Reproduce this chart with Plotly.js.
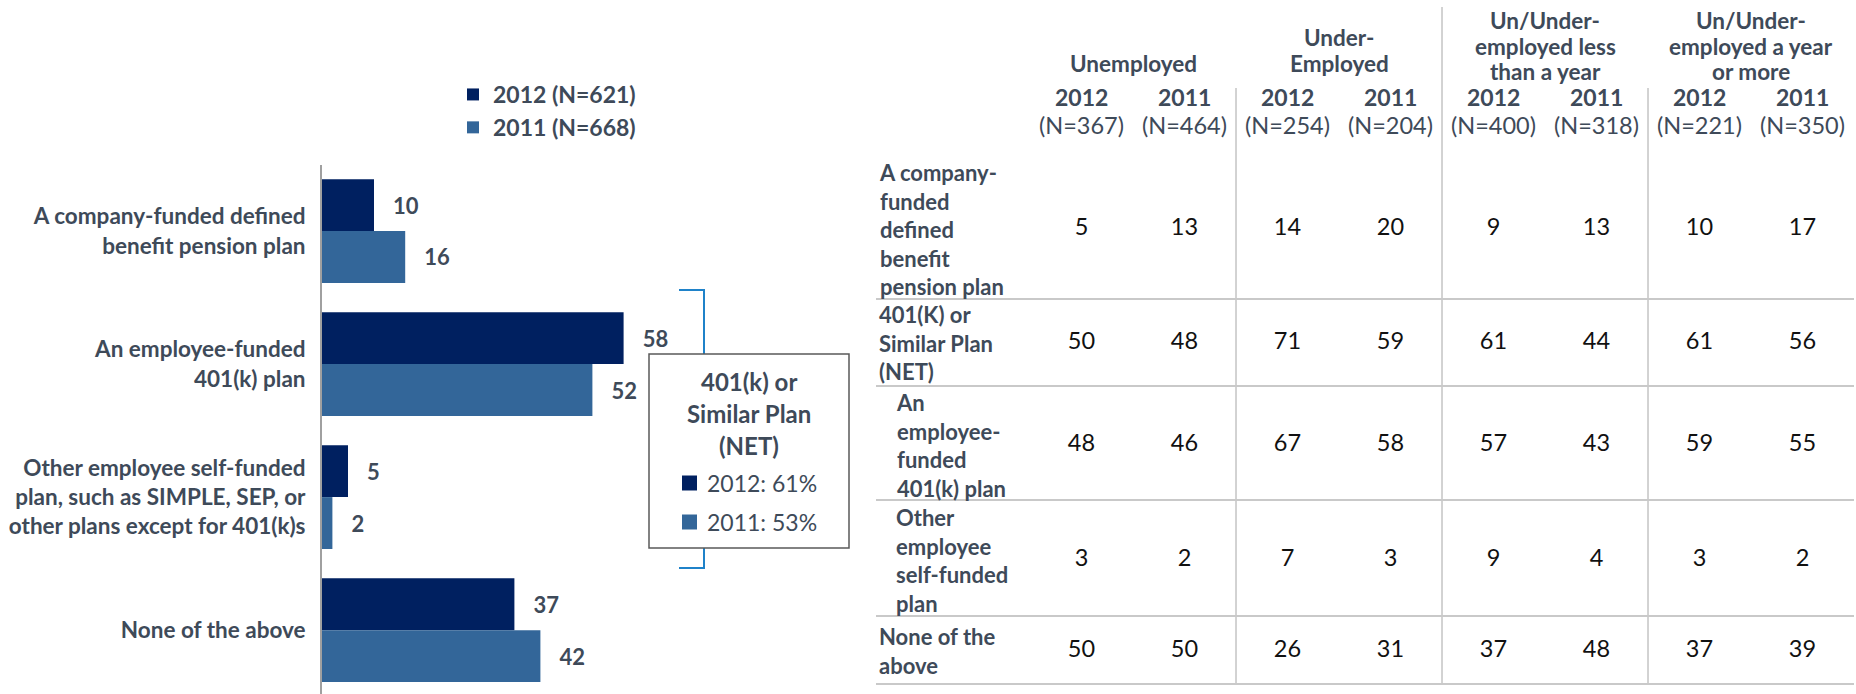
<!DOCTYPE html>
<html><head><meta charset="utf-8">
<script src="https://cdn.plot.ly/plotly-3.0.1.min.js"></script>
<style>html,body{margin:0;padding:0;background:#fff;} #chart{width:1856px;height:694px;}</style>
</head><body><div id="chart"></div>
<script>
// ---------- data ----------
const categories = [
  "A company-funded defined<br>benefit pension plan",
  "An employee-funded<br>401(k) plan",
  "Other employee self-funded<br>plan, such as SIMPLE, SEP, or<br>other plans except for 401(k)s",
  "None of the above"
];
const values2012 = [10, 58, 5, 37];
const values2011 = [16, 52, 2, 42];
const seriesNames = ["2012 (N=621)", "2011 (N=668)"];
const netTitleLines = ["401(k) or", "Similar Plan", "(NET)"];
const netLabels = ["2012: 61%", "2011: 53%"];

const groupTitles = [["Unemployed"], ["Under-", "Employed"], ["Un/Under-", "employed less", "than a year"], ["Un/Under-", "employed a year", "or more"]];
const colYears = ["2012", "2011", "2012", "2011", "2012", "2011", "2012", "2011"];
const colN = ["(N=367)", "(N=464)", "(N=254)", "(N=204)", "(N=400)", "(N=318)", "(N=221)", "(N=350)"];
const rowLabels = [
  "A company-<br>funded<br>defined<br>benefit<br>pension plan",
  "401(K) or<br>Similar Plan<br>(NET)",
  "An<br>employee-<br>funded<br>401(k) plan",
  "Other<br>employee<br>self-funded<br>plan",
  "None of the<br>above"
];
const rowIndent = [false, false, true, true, false];
const tableValues = [
  [5, 13, 14, 20, 9, 13, 10, 17],
  [50, 48, 71, 59, 61, 44, 61, 56],
  [48, 46, 67, 58, 57, 43, 59, 55],
  [3, 2, 7, 3, 9, 4, 3, 2],
  [50, 50, 26, 31, 37, 48, 37, 39]
];

// ---------- styling / layout constants ----------
const W = 1856, H = 694;
const FONT = "Lato, 'Open Sans', sans-serif";
const GRAY = "#3E4A59";
const C2012 = "#002060", C2011 = "#336699";
const NBSP = "\u00a0";

// table geometry (pixel space of overlay axes)
const groupCenters = [1133, 1339, 1545, 1751];
const colHalf = 51.5;
const colCenters = [];
groupCenters.forEach(g => { colCenters.push(g - colHalf, g + colHalf); });
const titleLineY = {1: [63], 2: [37, 63], 3: [20, 46, 71]};
const rowCenters = [229, 343, 445, 560, 651];
const rowLines = [299, 386, 500, 616, 684];
const sepX = [1236, 1442, 1648];
const sepTop = [88, 7, 88];

const traces = [
  {type: "bar", orientation: "h", name: seriesNames[0], y: categories, x: values2012,
   marker: {color: C2012}, text: values2012.map(String), texttemplate: NBSP + NBSP + NBSP + "%{x}",
   textposition: "outside", cliponaxis: false, constraintext: "none",
   textfont: {family: FONT, size: 22, color: GRAY, weight: "bold"}, hoverinfo: "skip"},
  {type: "bar", orientation: "h", name: seriesNames[1], y: categories, x: values2011,
   marker: {color: C2011}, text: values2011.map(String), texttemplate: NBSP + NBSP + NBSP + "%{x}",
   textposition: "outside", cliponaxis: false, constraintext: "none",
   textfont: {family: FONT, size: 22, color: GRAY, weight: "bold"}, hoverinfo: "skip"}
];

// table values as text traces on the overlay axes
tableValues.forEach((row, r) => {
  traces.push({type: "scatter", mode: "text", xaxis: "x2", yaxis: "y2", showlegend: false,
    x: colCenters, y: colCenters.map(() => rowCenters[r]), text: row.map(String),
    textposition: "middle center", cliponaxis: false, hoverinfo: "skip",
    textfont: {family: FONT, size: 23.5, color: "#111111"}});
});

const shapes = [];
const annotations = [];

// bracket + NET box
shapes.push({type: "path", xref: "x2", yref: "y2", path: "M 679 290 H 704 V 568 H 679",
  line: {color: "#1F82C9", width: 2}});
shapes.push({type: "rect", xref: "x2", yref: "y2", x0: 649, x1: 849, y0: 354, y1: 548,
  fillcolor: "#ffffff", line: {color: "#595959", width: 1.5}});
const netTitleY = [381, 413, 445];
netTitleLines.forEach((t, i) => annotations.push({xref: "x2", yref: "y2", x: 749, y: netTitleY[i],
  text: t, showarrow: false, xanchor: "center", yanchor: "middle",
  font: {family: FONT, size: 24, color: GRAY, weight: "bold"}}));
const netY = [483, 522];
[C2012, C2011].forEach((c, i) => {
  shapes.push({type: "rect", xref: "x2", yref: "y2", x0: 682, x1: 697, y0: netY[i] - 7.5, y1: netY[i] + 7.5,
    fillcolor: c, line: {width: 0}});
  annotations.push({xref: "x2", yref: "y2", x: 705, y: netY[i], text: netLabels[i], showarrow: false,
    xanchor: "left", yanchor: "middle", font: {family: FONT, size: 23, color: GRAY}});
});

// table lines
sepX.forEach((x, i) => shapes.push({type: "line", xref: "x2", yref: "y2", x0: x, x1: x, y0: sepTop[i], y1: 684,
  line: {color: "#A6A6A6", width: 1}}));
rowLines.forEach(y => shapes.push({type: "line", xref: "x2", yref: "y2", x0: 876, x1: 1854, y0: y, y1: y,
  line: {color: "#C9C9C9", width: 2}}));

// table header
groupTitles.forEach((lines, i) => {
  const ys = titleLineY[lines.length];
  lines.forEach((t, k) => annotations.push({xref: "x2", yref: "y2", x: groupCenters[i], y: ys[k],
    text: t, showarrow: false, xanchor: "center", yanchor: "middle", borderpad: 0,
    font: {family: FONT, size: 22.5, color: GRAY, weight: "bold"}}));
});
colCenters.forEach((x, i) => {
  annotations.push({xref: "x2", yref: "y2", x: x, y: 97, text: colYears[i], showarrow: false, borderpad: 0,
    xanchor: "center", yanchor: "middle", font: {family: FONT, size: 23, color: GRAY, weight: "bold"}});
  annotations.push({xref: "x2", yref: "y2", x: x, y: 125, text: colN[i], showarrow: false, borderpad: 0,
    xanchor: "center", yanchor: "middle", font: {family: FONT, size: 23.5, color: GRAY}});
});
// row labels
rowLabels.forEach((t, r) => annotations.push({xref: "x2", yref: "y2", x: rowIndent[r] ? 894 : 877, y: rowCenters[r],
  text: t, showarrow: false, xanchor: "left", yanchor: "middle", align: "left",
  font: {family: FONT, size: 22, color: GRAY, weight: "bold"}}));

const layout = {
  width: W, height: H,
  margin: {l: 0, r: 0, t: 0, b: 0, pad: 0},
  paper_bgcolor: "#ffffff", plot_bgcolor: "rgba(0,0,0,0)",
  barmode: "group", bargap: 0.22, bargroupgap: 0,
  showlegend: true,
  legend: {x: 453 / W, xanchor: "left", y: 1 - 73 / H, yanchor: "top", traceorder: "normal",
    font: {family: FONT, size: 23, color: GRAY, weight: "bold"}, itemwidth: 30,
    bgcolor: "rgba(0,0,0,0)", tracegroupgap: 0, itemclick: false, itemdoubleclick: false},
  xaxis: {domain: [322 / W, 842 / W], range: [0, 100], visible: false, fixedrange: true},
  yaxis: {domain: [0, (H - 164.5) / H], type: "category", range: [3.48, -0.5], automargin: false,
    showline: true, linecolor: "#A0A0A0", linewidth: 2, showgrid: false, zeroline: false,
    ticks: "outside", ticklen: 10, tickcolor: "rgba(0,0,0,0)", fixedrange: true,
    tickfont: {family: FONT, size: 22.5, color: GRAY, weight: "bold"}},
  xaxis2: {domain: [0, 1], range: [0, W], visible: false, anchor: "y2", fixedrange: true},
  yaxis2: {domain: [0, 1], range: [H, 0], visible: false, anchor: "x2", fixedrange: true},
  shapes: shapes,
  annotations: annotations,
  font: {family: FONT, color: GRAY}
};

Plotly.newPlot("chart", traces, layout, {displayModeBar: false, staticPlot: true});
</script>
</body></html>
